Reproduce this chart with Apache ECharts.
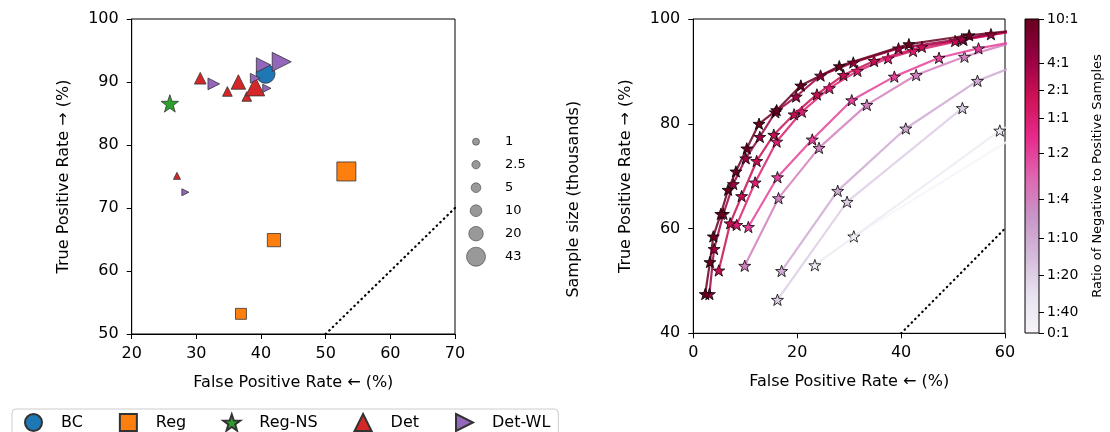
<!DOCTYPE html>
<html>
<head>
<meta charset="utf-8">
<script src="https://cdn.jsdelivr.net/npm/echarts@6/dist/echarts.min.js"></script>
<style>
  html, body { margin: 0; padding: 0; background: #fff; }
  #chart { width: 1110px; height: 432px; }
</style>
</head>
<body>
<div id="chart"></div>
<script>
// ---- left panel: operating points per method (FPR %, TPR %, sample size in thousands)
var bcFpr = [40.7];
var bcTpr = [91.3];
var bcN = [43];

var regFpr = [53.2, 42.0, 36.9];
var regTpr = [75.8, 64.9, 53.2];
var regN = [43, 15, 8];

var regNsFpr = [25.9];
var regNsTpr = [86.6];
var regNsN = [20];

var detFpr = [30.6, 36.5, 34.8, 37.8, 39.1, 27.0];
var detTpr = [90.6, 90.0, 88.5, 87.7, 89.3, 75.1];
var detN = [10, 20, 5, 5, 43, 1];

var detWlFpr = [32.7, 40.4, 43.2, 39.1, 40.9, 28.3];
var detWlTpr = [89.7, 92.7, 93.2, 90.6, 89.0, 72.5];
var detWlN = [10, 20, 43, 5, 2.5, 1];

var sizeTicks = [1, 2.5, 5, 10, 20, 43];

// ---- right panel: ROC curves for each negative:positive ratio
var ratioLabels = ['0:1', '1:40', '1:20', '1:10', '1:4', '1:2', '1:1', '2:1', '4:1', '10:1'];
var ratioPos = [0, 0.067, 0.185, 0.302, 0.427, 0.573, 0.685, 0.774, 0.86, 1];

var rocFpr = [
  [30.9, 64],
  [23.4, 59.0, 70],
  [16.2, 29.6, 51.8],
  [17.0, 27.8, 40.9, 54.7, 66],
  [9.9, 16.4, 24.2, 33.4, 42.9, 52.2, 63],
  [10.6, 16.2, 22.9, 30.5, 38.7, 47.3, 54.9, 63],
  [8.35, 11.9, 16.05, 20.9, 26.2, 31.6, 37.5, 42.3, 52, 62],
  [4.9, 7.1, 9.3, 12.2, 15.5, 19.4, 23.8, 28.9, 34.8, 44.0, 50.4, 61],
  [3.1, 4.0, 5.8, 7.7, 10.1, 12.8, 15.8, 19.8, 24.5, 30.8, 39.5, 51.7, 57.3],
  [2.3, 3.2, 3.85, 5.3, 6.7, 8.2, 10.3, 12.65, 16.05, 20.7, 28.1, 41.5, 53.1, 62]
];
var rocTpr = [
  [58.5, 78.8],
  [53.0, 78.7, 84],
  [46.4, 65.1, 83.0],
  [51.9, 67.2, 79.1, 88.2, 92.6],
  [52.9, 65.8, 75.4, 83.6, 89.3, 92.8, 96.0],
  [60.3, 69.8, 77.0, 84.5, 89.0, 92.6, 94.4, 95.9],
  [60.7, 68.8, 76.6, 82.3, 86.8, 90.1, 92.5, 93.9, 96, 97.7],
  [52.0, 61.0, 66.2, 72.9, 77.9, 81.8, 85.6, 89.3, 92.0, 94.7, 95.8, 97.6],
  [47.5, 56.1, 62.8, 68.5, 73.4, 77.5, 82.2, 85.2, 89.2, 91.7, 94.4, 96.2, 97.1],
  [47.5, 53.6, 58.5, 62.8, 67.4, 70.9, 75.3, 80.0, 82.6, 87.3, 91.0, 95.2, 96.9, 97.8]
];

// chance line
var diagLeft = [50, 70];
var diagRight = [40, 60];

// PuRd colormap
var purd = ['#f7f4f9', '#e7e1ef', '#d4b9da', '#c994c7', '#df65b0', '#e7298a', '#ce1256', '#980043', '#67001f'];

function hex2rgb(h) {
  return [parseInt(h.substr(1, 2), 16), parseInt(h.substr(3, 2), 16), parseInt(h.substr(5, 2), 16)];
}
function cmap(t) {
  var n = purd.length - 1;
  var f = Math.max(0, Math.min(1, t)) * n;
  var i = Math.min(n - 1, Math.floor(f));
  var k = f - i;
  var a = hex2rgb(purd[i]), b = hex2rgb(purd[i + 1]);
  var c = a.map(function (v, j) { return Math.round(v + (b[j] - v) * k); });
  return 'rgb(' + c.join(',') + ')';
}

function starPath() {
  var d = '';
  for (var i = 0; i < 10; i++) {
    var r = i % 2 === 0 ? 1 : 0.4;
    var a = Math.PI / 2 + i * Math.PI / 5;
    d += (i ? 'L' : 'M') + (r * Math.cos(a)).toFixed(3) + ',' + (-r * Math.sin(a)).toFixed(3);
  }
  return 'path://' + d + 'Z';
}
var STAR = starPath();
var RTRI = 'path://M0,0L1,0.5L0,1Z';

// marker diameter from sample size (thousands)
function sizeOf(n) { return 4.84 + 2.16 * Math.sqrt(n); }

function zip(xs, ys) { return xs.map(function (x, i) { return [x, ys[i]]; }); }

var FONT = 'DejaVu Sans';

function valueAxis(idx, min, max, interval, name, gap, isY) {
  return {
    type: 'value', gridIndex: idx, min: min, max: max, interval: interval,
    name: name, nameLocation: 'middle', nameGap: gap, nameRotate: isY ? 90 : 0,
    nameTextStyle: { fontFamily: FONT, fontSize: 16, color: '#000' },
    axisLine: { show: true, onZero: false, lineStyle: { color: '#000', width: 1 } },
    axisTick: { show: true, inside: false, length: 5, lineStyle: { color: '#000' } },
    axisLabel: { margin: isY ? 13 : 12, fontFamily: FONT, fontSize: 16, color: '#000' },
    splitLine: { show: false }
  };
}

function methodSeries(name, symbol, color, fpr, tpr, n, scale) {
  return {
    name: name, type: 'scatter', xAxisIndex: 0, yAxisIndex: 0,
    symbol: symbol, symbolKeepAspect: false,
    data: zip(fpr, tpr).map(function (p, i) {
      return { value: p, symbolSize: sizeOf(n[i]) * scale };
    }),
    itemStyle: { color: color, borderColor: '#333', borderWidth: 0.8, opacity: 1 },
    emphasis: { disabled: true }
  };
}

var dotted = { color: '#000', width: 2.2, type: [0.5, 4.5], cap: 'round' };

var series = [];
series.push({
  type: 'line', xAxisIndex: 0, yAxisIndex: 0, data: zip(diagLeft, diagLeft),
  symbol: 'none', lineStyle: dotted, silent: true
});
series.push(methodSeries('BC', 'circle', '#1f77b4', bcFpr, bcTpr, bcN, 1));
series.push(methodSeries('Reg', 'rect', '#ff7f0e', regFpr, regTpr, regN, 1));
series.push(methodSeries('Reg-NS', STAR, '#2ca02c', regNsFpr, regNsTpr, regNsN, 1.2));
series.push(methodSeries('Det', 'triangle', '#d62728', detFpr, detTpr, detN, 1));
series.push(methodSeries('Det-WL', RTRI, '#9467bd', detWlFpr, detWlTpr, detWlN, 1));

// sample size legend
series.push({
  type: 'scatter', xAxisIndex: 2, yAxisIndex: 2, silent: true,
  data: sizeTicks.map(function (s, i) { return { value: [0.5, i], symbolSize: sizeOf(s) }; }),
  itemStyle: { color: '#808080', borderColor: '#444', borderWidth: 0.8 }
});

// ROC curves
series.push({
  type: 'line', xAxisIndex: 1, yAxisIndex: 1, data: zip(diagRight, diagRight),
  symbol: 'none', lineStyle: dotted, silent: true
});
rocFpr.forEach(function (xs, k) {
  var c = cmap(ratioPos[k]);
  series.push({
    type: 'line', xAxisIndex: 1, yAxisIndex: 1, clip: true, silent: true,
    data: zip(xs, rocTpr[k]),
    symbol: STAR, symbolSize: 12, symbolKeepAspect: true, showAllSymbol: true,
    lineStyle: { color: c, width: 2.2, opacity: 0.85 },
    itemStyle: { color: c, borderColor: '#000', borderWidth: 0.8 },
    z: 3 + k
  });
});

// colorbar
var grad = new echarts.graphic.LinearGradient(0, 1, 0, 0,
  purd.map(function (c, i) { return { offset: i / (purd.length - 1), color: c }; }));
series.push({
  type: 'bar', xAxisIndex: 3, yAxisIndex: 3, data: [1], barWidth: '100%', silent: true,
  itemStyle: { color: grad }
});

var option = {
  animation: false,
  backgroundColor: '#fff',
  grid: [
    { left: 131.7, top: 19, width: 323.3, height: 315, show: true, borderColor: '#000', borderWidth: 1, backgroundColor: 'transparent' },
    { left: 693.3, top: 19, width: 311.7, height: 314.3, show: true, borderColor: '#000', borderWidth: 1, backgroundColor: 'transparent' },
    { left: 466, top: 130.2, width: 20, height: 138 },
    { left: 1025, top: 19, width: 14, height: 314, show: true, borderColor: '#000', borderWidth: 1, z: 5 }
  ],
  xAxis: [
    valueAxis(0, 20, 70, 10, 'False Positive Rate \u2190 (%)', 41, false),
    valueAxis(1, 0, 60, 20, 'False Positive Rate \u2190 (%)', 41, false),
    { type: 'value', gridIndex: 2, min: 0, max: 1, show: false },
    { type: 'category', gridIndex: 3, data: ['c'], show: false, boundaryGap: true }
  ],
  yAxis: [
    valueAxis(0, 50, 100, 10, 'True Positive Rate \u2192 (%)', 60, true),
    valueAxis(1, 40, 100, 20, 'True Positive Rate \u2192 (%)', 59, true),
    {
      type: 'category', gridIndex: 2, inverse: true, position: 'right',
      data: sizeTicks.map(String),
      name: 'Sample size (thousands)', nameLocation: 'middle', nameRotate: 90, nameGap: 80,
      nameTextStyle: { fontFamily: FONT, fontSize: 16, color: '#000' },
      axisLine: { show: false }, axisTick: { show: false }, splitLine: { show: false },
      axisLabel: { margin: 19, fontFamily: FONT, fontSize: 13, color: '#000' }
    },
    {
      type: 'value', gridIndex: 3, min: 0, max: 1, position: 'right',
      name: 'Ratio of Negative to Positive Samples', nameLocation: 'middle', nameRotate: 90, nameGap: 52,
      nameTextStyle: { fontFamily: FONT, fontSize: 13, color: '#000' },
      axisLine: { show: false }, splitLine: { show: false },
      axisTick: { show: true, length: 5, customValues: ratioPos, lineStyle: { color: '#000' } },
      axisLabel: {
        margin: 8, fontFamily: FONT, fontSize: 14, color: '#000', customValues: ratioPos,
        formatter: function (v) {
          var i = ratioPos.indexOf(v);
          return i >= 0 ? ratioLabels[i] : '';
        }
      }
    }
  ],
  legend: {
    data: ['BC', 'Reg', 'Reg-NS', 'Det', 'Det-WL'],
    left: 12, top: 409, orient: 'horizontal',
    itemWidth: 17, itemHeight: 17, itemGap: 36,
    padding: [4, 8, 4, 12],
    borderColor: '#ccc', borderWidth: 1, borderRadius: 4,
    textStyle: { fontFamily: FONT, fontSize: 16, color: '#000', padding: [0, 0, 0, 14] },
    selectedMode: false
  },
  series: series
};

var chart = echarts.init(document.getElementById('chart'), null, { renderer: 'canvas' });
chart.setOption(option);
</script>
</body>
</html>
